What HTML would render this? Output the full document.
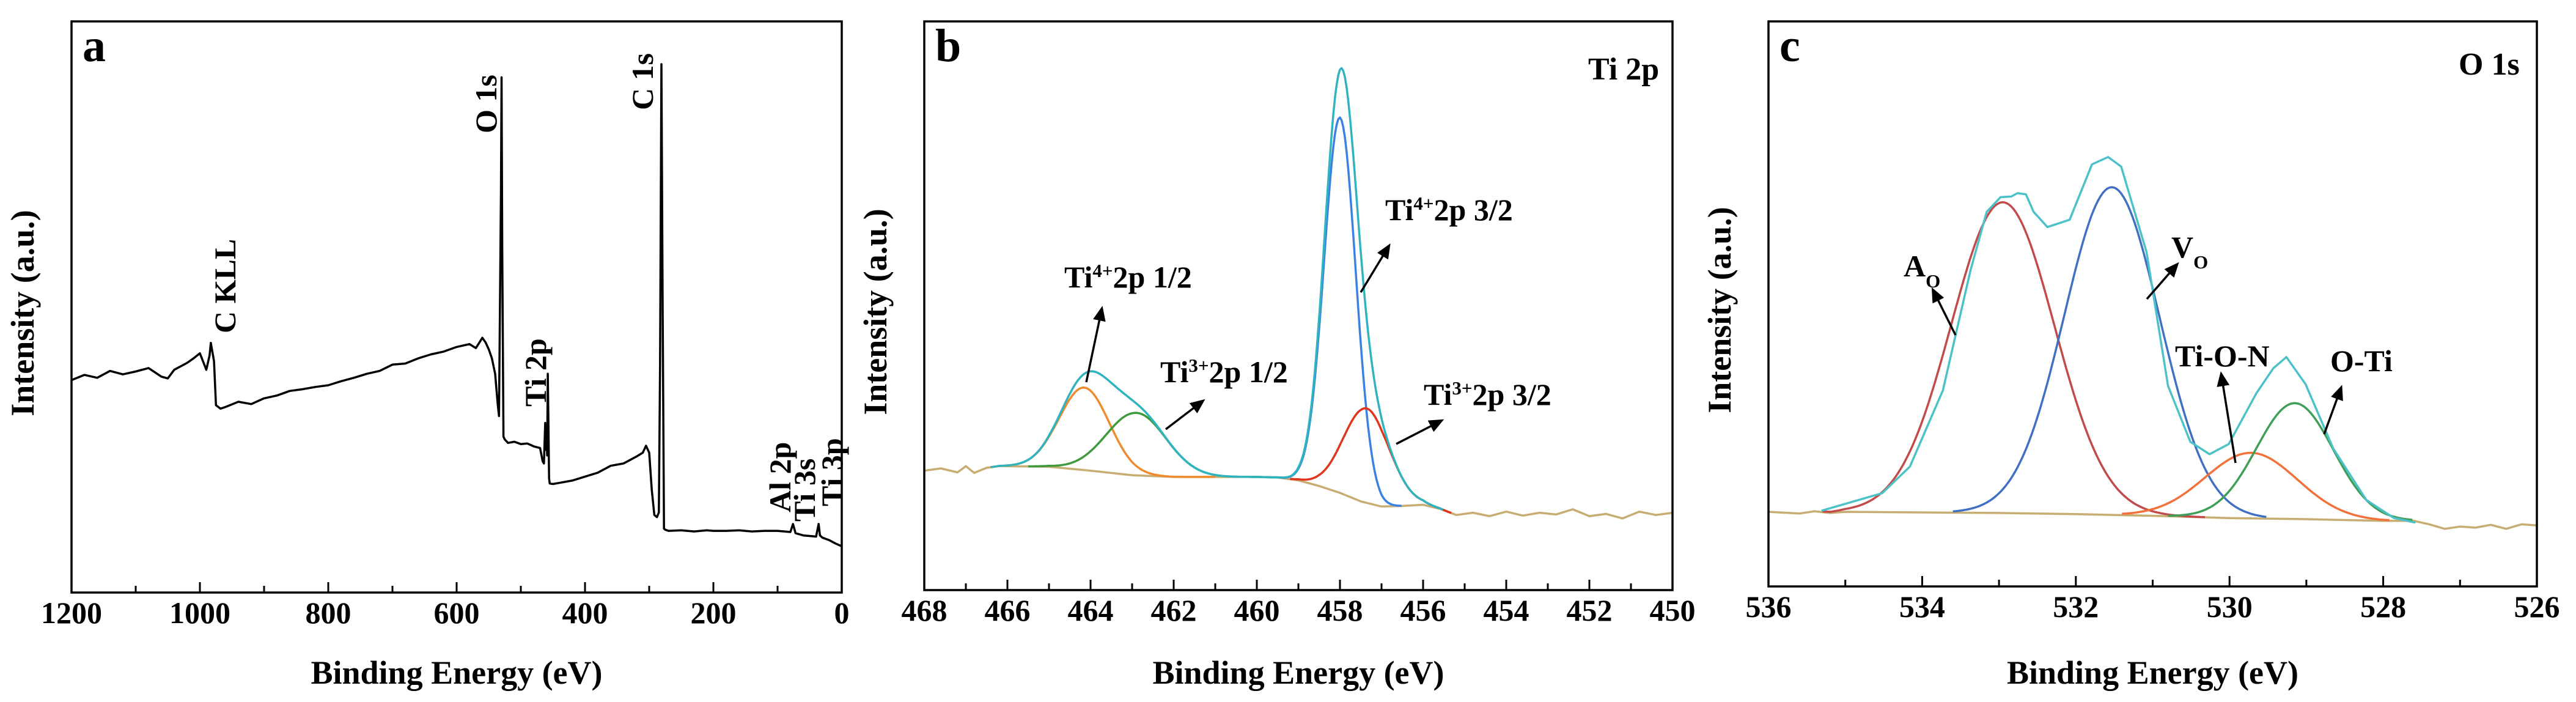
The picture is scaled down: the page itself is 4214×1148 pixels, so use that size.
<!DOCTYPE html>
<html><head><meta charset="utf-8"><style>
html,body{margin:0;padding:0;background:#fff;}
svg{display:block;}
text{font-family:"Liberation Serif",serif;font-weight:bold;fill:#000;}
</style></head><body>
<svg id="fig" width="4214" height="1148" viewBox="0 0 4214 1148" xmlns="http://www.w3.org/2000/svg">
<defs><marker id="ah" markerWidth="8" markerHeight="8" refX="5" refY="4" orient="auto" markerUnits="strokeWidth"><path d="M0,1 L7,4 L0,7 Z" fill="#000"/></marker></defs>
</svg>
<script>
// ---------- Panel a: survey ----------
const surveyE = [1200,1180,1160,1140,1120,1100,1080,1060,1050,1040,1020,1010,1000,990,985,983,978,975,968,960,940,920,900,880,860,840,820,800,780,760,740,720,700,680,660,640,620,600,580,570,560,555,550,545,540,536,534,531,530,529,527,525,520,510,500,490,480,470,466,464,462,461,460,459,458,457,456,455,450,440,420,400,380,360,340,320,310,305,300,296,292,288,285,283,281,279,277,275,270,250,230,210,200,180,160,140,120,100,80,76,72,60,50,40,36,34,30,20,10,0];
const surveyI = [37.2,38.1,37.6,38.8,38.2,38.7,39.3,37.8,37.5,39.0,40.2,41.0,41.9,39.0,41.5,43.7,40.5,32.8,32.2,32.5,33.4,33.0,34.0,34.5,35.3,35.6,36.0,36.3,37.0,37.6,38.3,38.8,39.9,40.1,41.0,41.7,42.2,43.0,43.5,42.8,44.6,43.8,42.6,41.0,38.3,33.0,30.9,70,90.2,60,27.3,26.8,26.2,26.4,26.0,26.1,25.6,25.3,23.0,22.6,29.7,25.0,28.0,24.0,38.3,30.0,20.0,19.1,19.0,19.2,19.6,20.3,21.0,22.2,22.6,23.8,24.5,25.7,24.5,18.0,13.6,13.2,14.0,40,92.5,50,11.2,11.0,10.8,10.9,10.7,10.9,10.8,10.8,10.9,10.7,10.8,10.8,10.6,12.0,10.4,10.0,9.9,9.8,12.0,10.0,9.6,9.2,8.6,8.1];
const surveyTicks = [1200,1000,800,600,400,200,0];
const surveyMinor = [1100,900,700,500,300,100];

// ---------- Panel b: Ti 2p ----------
const tiBgE = [468,467.6,467.2,467,466.8,466.5,466.2,466,465,464,463,462,461,460,459.5,459,458.5,458,457.5,457,456.5,456,455.6,455.2,454.8,454.4,454,453.6,453.2,452.8,452.4,452,451.6,451.2,450.8,450.4,450];
const tiBgI = [21.0,21.4,20.7,21.8,20.6,21.5,21.8,21.8,21.7,21.0,20.2,19.9,19.9,19.9,19.8,19.3,18.3,17.1,15.6,14.7,14.8,15.0,14.3,13.2,13.6,13.0,13.8,13.1,13.6,13.3,14.2,13.0,13.4,12.6,13.8,13.2,13.6];
const tiNames = ["Ti4+ 2p1/2","Ti3+ 2p1/2","Ti4+ 2p3/2","Ti3+ 2p3/2"];
const tiCenters = [464.15,462.9,458.0,457.36];
const tiAmps = [14.5,11.0,66.0,16.6];
const tiSigmas = [0.6,0.72,0.38,0.55];
const tiRanges = [[466.4,461.0],[465.5,459.6],[459.6,456.5],[459.2,455.3]];
const tiColors = ["#f08a2e","#3e9a3c","#3b80e3","#e0341c"];
const tiTicks = [468,466,464,462,460,458,456,454,452,450];

// ---------- Panel c: O 1s ----------
const oBgE = [536,535.6,535.4,535.2,535,534,533,532,531,530,529,528,527.6,527.4,527.2,527,526.8,526.6,526.4,526.2,526];
const oBgI = [13.2,12.9,13.3,13.0,13.2,13.1,13.0,12.8,12.5,12.1,11.9,11.6,11.6,11.0,10.2,10.6,10.4,10.9,10.2,11.0,10.8];
const oEnvE = [535.31,534.52,534.16,533.73,533.37,533.16,532.98,532.84,532.76,532.65,532.55,532.37,532.08,531.79,531.58,531.41,531.08,530.80,530.51,530.26,530.01,529.65,529.43,529.26,529.01,528.65,528.22,527.86,527.58];
const oEnvI = [13.4,16.5,21.2,34.7,56.0,66.3,68.9,69.0,69.6,69.4,66.3,63.6,64.9,74.7,76.0,74.3,59.2,35.5,25.6,23.4,25.2,34.2,38.6,40.6,35.8,24.4,15.3,12.1,11.3];
const oNames = ["A_O","V_O","Ti-O-N","O-Ti"];
const oCenters = [532.95,531.53,529.72,529.15];
const oAmps = [55,58,11.6,20.5];
const oSigmas = [0.67,0.62,0.6,0.5];
const oRanges = [[535.3,530.3],[533.6,529.5],[531.4,527.9],[530.8,527.6]];
const oColors = ["#c24a4a","#4070c4","#f2703a","#3f9e58"];
const oTicks = [536,534,532,530,528,526];

const NS = "http://www.w3.org/2000/svg";
const svg = document.getElementById('fig');
function mk(tag, attrs, parent){ const e=document.createElementNS(NS,tag); for(const k in attrs) e.setAttribute(k,attrs[k]); (parent||svg).appendChild(e); return e; }
function axis(x0,x1,y0,y1,eL,eR){ return { x:e=>x0+(eL-e)/(eL-eR)*(x1-x0), y:v=>y1-v/100*(y1-y0) }; }
function interp(xs,ys,e){ for(let i=0;i<xs.length-1;i++){ const a=xs[i],b=xs[i+1]; if((e<=a&&e>=b)||(e>=a&&e<=b)){ const t=(e-a)/(b-a||1); return ys[i]+t*(ys[i+1]-ys[i]); } } return ys[ys.length-1]; }
function gauss(e,c,a,s){ return a*Math.exp(-(e-c)*(e-c)/(2*s*s)); }

function frame(g,P,x0,x1,y0,y1,ticks,minor,label,letter){
  const f = mk('rect',{x:x0,y:y0,width:x1-x0,height:y1-y0,fill:'none',stroke:'#000','stroke-width':3.5},g);
  
  
  ticks.forEach(t=>{
    const l=mk('line',{x1:P.x(t),x2:P.x(t),y1:y1,y2:y1-17,stroke:'#000','stroke-width':3},g);
    
    
    const tx=mk('text',{x:P.x(t),y:y1+50,'text-anchor':'middle','font-size':50},g);
    tx.textContent=t;
    
    
  });
  minor.forEach(t=>{
    const l=mk('line',{x1:P.x(t),x2:P.x(t),y1:y1,y2:y1-11,stroke:'#000','stroke-width':3},g);
    
    
  });
  const xt=mk('text',{x:(x0+x1)/2,y:1118,'text-anchor':'middle','font-size':54},g);
  xt.textContent='Binding Energy (eV)';
  
  
  const yt=mk('text',{x:0,y:0,'text-anchor':'middle','font-size':54,transform:`translate(${x0-62},${(y0+y1)/2+10}) rotate(-90)`},g);
  yt.textContent='Intensity (a.u.)';
  
  
  const lt=mk('text',{x:x0+18,y:y0+65,'font-size':76},g);
  lt.textContent=letter;
  
  
}
function poly(g,pts,color,w,name){
  const p=mk('polyline',{points:pts.map(q=>q[0].toFixed(1)+','+q[1].toFixed(1)).join(' '),fill:'none',stroke:color,'stroke-width':w,'stroke-linejoin':'round'},g);
  
  
  return p;
}
function vlabel(g,x,y,txt,name){
  const t=mk('text',{x:0,y:0,'font-size':50,transform:`translate(${x},${y}) rotate(-90)`},g);
  t.textContent=txt;
  
  
}
function arrow(g,x1,y1,x2,y2,name){
  const a=mk('line',{x1,y1,x2,y2,stroke:'#000','stroke-width':3.5,'marker-end':'url(#ah)'},g);
  
  
}
function richLabel(g,x,y,main,sup,rest,sub,name,fs){
  fs=fs||50;
  const t=mk('text',{x,y,'font-size':fs},g);
  
  
  const s1=mk('tspan',{},t); s1.textContent=main;
  if(sup){ const s=mk('tspan',{'baseline-shift':'super','font-size':fs*0.62},t); s.textContent=sup; }
  if(sub){ const s=mk('tspan',{'baseline-shift':'sub','font-size':fs*0.62},t); s.textContent=sub; }
  if(rest){ const s=mk('tspan',{},t); s.textContent=rest; }
}

// Panel a
const ga=mk('g',{});  
const PA=axis(117,1377,35,969,1200,0);
poly(ga,surveyE.map((e,i)=>[PA.x(e),PA.y(surveyI[i])]),'#000',3.5,'survey-spectrum');
frame(ga,PA,117,1377,35,969,surveyTicks,surveyMinor,'','a');
vlabel(ga,385,545,'C KLL','label-c-kll');
vlabel(ga,812,218,'O 1s','label-o1s');
vlabel(ga,1068,180,'C 1s','label-c1s');
vlabel(ga,893,665,'Ti 2p','label-ti2p');
vlabel(ga,1293,838,'Al 2p','label-al2p');
vlabel(ga,1333,853,'Ti 3s','label-ti3s');
vlabel(ga,1378,828,'Ti 3p','label-ti3p');

// Panel b
const gb=mk('g',{});  
const PB=axis(1512,2736,35,965,468,450);
poly(gb,tiBgE.map((e,i)=>[PB.x(e),PB.y(tiBgI[i])]),'#c8ad72',3.5,'ti-background');
tiCenters.forEach((c,k)=>{
  const pts=[]; const [a,b]=tiRanges[k];
  for(let e=a;e>=b-1e-9;e-=0.04){ pts.push([PB.x(e),PB.y(interp(tiBgE,tiBgI,e)+gauss(e,c,tiAmps[k],tiSigmas[k]))]); }
  poly(gb,pts,tiColors[k],3.5,'ti-component-'+k);
});
{ const pts=[]; for(let e=466.4;e>=455.5;e-=0.04){ let v=interp(tiBgE,tiBgI,e); tiCenters.forEach((c,k)=>v+=gauss(e,c,tiAmps[k],tiSigmas[k])); pts.push([PB.x(e),PB.y(v)]); } poly(gb,pts,'#2fb4bf',3.5,'ti-envelope'); }
frame(gb,PB,1512,2736,35,965,tiTicks,[467,465,463,461,459,457,455,453,451],'','b');
const tb=mk('text',{x:2598,y:130,'font-size':52},gb); tb.textContent='Ti 2p';  
richLabel(gb,1741,470,'Ti','4+','2p 1/2','', 'label-ti4-2p12');
arrow(gb,1777,625,1802,507,'arrow-ti4-2p12');
richLabel(gb,1898,625,'Ti','3+','2p 1/2','', 'label-ti3-2p12');
arrow(gb,1907,702,1966,657,'arrow-ti3-2p12');
richLabel(gb,2266,360,'Ti','4+','2p 3/2','', 'label-ti4-2p32');
arrow(gb,2226,478,2271,404,'arrow-ti4-2p32');
richLabel(gb,2329,662,'Ti','3+','2p 3/2','', 'label-ti3-2p32');
arrow(gb,2284,726,2356,689,'arrow-ti3-2p32');

// Panel c
const gc=mk('g',{});  
const PC=axis(2893,4150,35,959,536,526);
poly(gc,oBgE.map((e,i)=>[PC.x(e),PC.y(oBgI[i])]),'#c8ad72',3.5,'o-background');
oCenters.forEach((c,k)=>{
  const pts=[]; const [a,b]=oRanges[k];
  for(let e=a;e>=b-1e-9;e-=0.03){ pts.push([PC.x(e),PC.y(interp(oBgE,oBgI,e)+gauss(e,c,oAmps[k],oSigmas[k]))]); }
  poly(gc,pts,oColors[k],3.5,'o-component-'+k);
});
poly(gc,oEnvE.map((e,i)=>[PC.x(e),PC.y(oEnvI[i])]),'#4cc2c8',3.5,'o-envelope');
frame(gc,PC,2893,4150,35,959,oTicks,[535,533,531,529,527],'','c');
const tc=mk('text',{x:4022,y:122,'font-size':52},gc); tc.textContent='O 1s';  
richLabel(gc,3114,452,'A','','','O','label-ao');
arrow(gc,3199,548,3163,476,'arrow-ao');
richLabel(gc,3552,421,'V','','','O','label-vo');
arrow(gc,3512,489,3560,434,'arrow-vo');
richLabel(gc,3558,599,'Ti-O-N','','','','label-ti-o-n');
arrow(gc,3657,757,3634,614,'arrow-ti-o-n');
richLabel(gc,3812,607,'O-Ti','','','','label-o-ti');
arrow(gc,3802,710,3829,636,'arrow-o-ti');
</script>
</body></html>
